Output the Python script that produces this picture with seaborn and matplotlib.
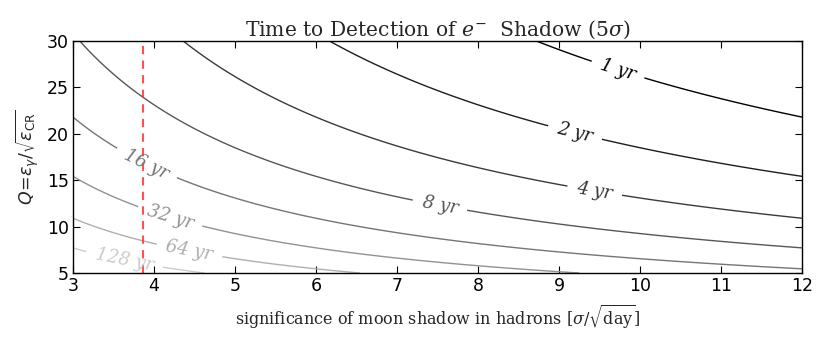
import numpy as np
import matplotlib
matplotlib.use("Agg")
import matplotlib.pyplot as plt
import seaborn as sns

# ---- data / model ----
x_range = [3, 12]            # significance of moon shadow in hadrons [sigma/sqrt(day)]
q_range = [5, 30]            # Q = eps_gamma / sqrt(eps_CR)
target_sigma = 5.0
electron_fraction = 1e-3
days_per_year = 365.25
levels = [1, 2, 4, 8, 16, 32, 64, 128]
level_labels = ["1 yr", "2 yr", "4 yr", "8 yr", "16 yr", "32 yr", "64 yr", "128 yr"]
label_x = [9.75, 9.2, 9.44, 7.53, 3.91, 4.2, 4.44, 3.64]
label_q = [27.5, 20.2, 13.8, 12.3, 16.8, 11.1, 7.5, 6.6]
vline_x = 3.87

sns.set_theme(style="white")
plt.rcParams.update({
    "font.family": ["DejaVu Sans"],
    "xtick.direction": "in", "ytick.direction": "in",
    "xtick.top": True, "ytick.right": True,
    "xtick.bottom": True, "ytick.left": True,
    "xtick.major.size": 5, "ytick.major.size": 5,
    "xtick.major.width": 0.8, "ytick.major.width": 0.8,
    "xtick.labelsize": 12.5, "ytick.labelsize": 12.5,
    "xtick.color": "black", "ytick.color": "black",
    "axes.edgecolor": "black", "axes.linewidth": 1.0,
    "xtick.major.pad": 3, "ytick.major.pad": 3,
})

fig = plt.figure(figsize=(8.3, 3.46), dpi=100)
ax = fig.add_axes([73/830, 1-273/346, (802-73)/830, (273-41)/346])

xs = np.linspace(x_range[0], x_range[1], 500)
qs = np.linspace(q_range[0], q_range[1], 500)
X, Q = np.meshgrid(xs, qs)
T = (target_sigma / (X * Q * electron_fraction)) ** 2 / days_per_year

colors = plt.cm.gray(np.linspace(0, 0.8, len(levels)))
cs = ax.contour(X, Q, T, levels=levels, colors=colors, linewidths=1.0)
fmt = dict(zip(levels, level_labels))
lbls = ax.clabel(cs, levels=levels, fmt=fmt, inline=True, fontsize=13,
                 inline_spacing=10, manual=list(zip(label_x, label_q)))
for t in lbls:
    t.set_family("DejaVu Serif")
    t.set_style("italic")

ax.axvline(vline_x, color=(1.0, 0.2, 0.2), alpha=0.85, ls="--", lw=1.5, dashes=(4, 3))

ax.set_xlim(*x_range)
ax.set_ylim(*q_range)
ax.set_xticks(range(3, 13))
ax.set_yticks([5, 10, 15, 20, 25, 30])

ax.set_title(r"Time to Detection of $e^{-}$  Shadow $(5\sigma)$", fontsize=14.6,
             family="DejaVu Serif", math_fontfamily="dejavuserif", pad=4)
ax.set_xlabel(r"significance of moon shadow in hadrons $[\sigma/\sqrt{\rm day}]$",
              fontsize=11.5, family="DejaVu Serif", math_fontfamily="dejavuserif", labelpad=6)
ax.set_ylabel(r"$Q\!=\!\epsilon_\gamma/\sqrt{\epsilon_{\rm CR}}$", fontsize=12.5,
              math_fontfamily="dejavusans", labelpad=4)

fig.savefig("out.png", dpi=100)
